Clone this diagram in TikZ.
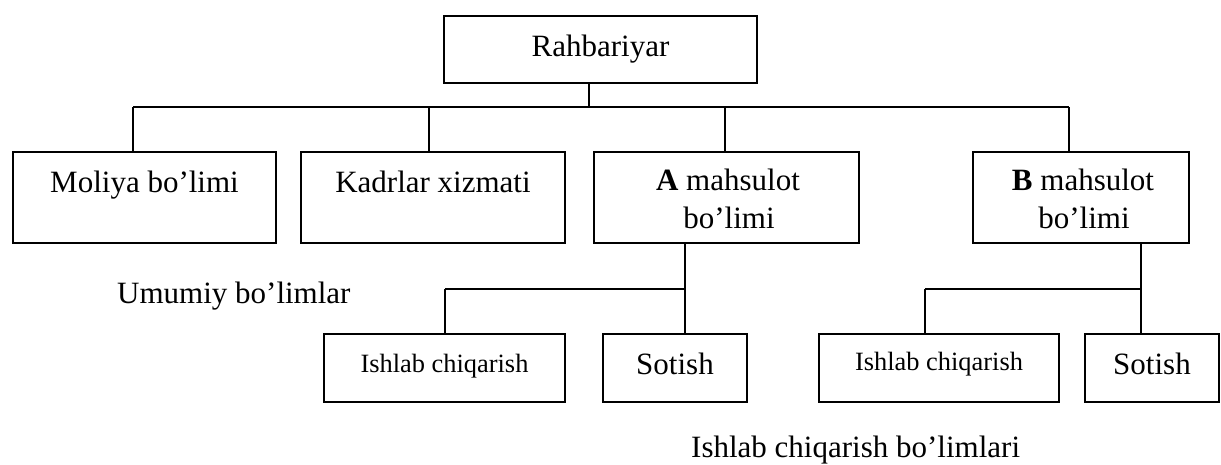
\documentclass[tikz,border=0pt]{standalone}
\usepackage{fontspec}
\setmainfont{Liberation Serif}
\begin{document}
\begin{tikzpicture}[x=1pt,y=-1pt,
  box/.style={draw=black,line width=2pt,inner sep=0pt,rectangle},
  txt/.style={anchor=base,inner sep=0pt,font=\fontsize{31}{37}\selectfont},
  smalltxt/.style={anchor=base,inner sep=0pt,font=\fontsize{26.4}{32}\selectfont},
  wire/.style={draw=black,line width=2pt}]
\useasboundingbox (0,0) rectangle (1221,464);

% top level
\node[box,minimum width=313,minimum height=67] (rah) at (600.5,49.5) {};
\node[txt] (raht) at (600.5,56) {Rahbariyar};

% departments
\node[box,minimum width=263,minimum height=91] (mol) at (144.5,197.5) {};
\node[txt] (molt) at (144.5,192) {Moliya bo’limi};
\node[box,minimum width=264,minimum height=91] (kad) at (433,197.5) {};
\node[txt] (kadt) at (433,192) {Kadrlar xizmati};
\node[box,minimum width=265,minimum height=91] (pa) at (726.5,197.5) {};
\node[txt] (pat1) at (728,190) {\textbf{A} mahsulot};
\node[txt] (pat2) at (729,228) {bo’limi};
\node[box,minimum width=216,minimum height=91] (pb) at (1081,197.5) {};
\node[txt] (pbt1) at (1083,190) {\textbf{B} mahsulot};
\node[txt] (pbt2) at (1084,228) {bo’limi};

% product sub-units
\node[box,minimum width=241,minimum height=68] (ia) at (444.5,368) {};
\node[smalltxt] (iat) at (444.5,372) {Ishlab chiqarish};
\node[box,minimum width=144,minimum height=68] (sa) at (675,368) {};
\node[txt] (sat) at (675,374) {Sotish};
\node[box,minimum width=240,minimum height=68] (ib) at (939,368) {};
\node[smalltxt] (ibt) at (939,370) {Ishlab chiqarish};
\node[box,minimum width=134,minimum height=68] (sb) at (1152,368) {};
\node[txt] (sbt) at (1152,374) {Sotish};

% group captions
\node[txt,anchor=base west] (gen) at (117,303) {Umumiy bo’limlar};
\node[txt,anchor=base west] (prod) at (691,457) {Ishlab chiqarish bo’limlari};

% main bus
\coordinate (top) at (589,107);
\coordinate (jm) at (133,107);
\coordinate (jk) at (429,107);
\coordinate (ja) at (725,107);
\coordinate (jb) at (1069,107);
\draw[wire] (rah.south -| top) -- (top);
\draw[wire] (jm) -- (jb);
\draw[wire] (jm) -- (jm |- mol.north);
\draw[wire] (jk) -- (jk |- kad.north);
\draw[wire] (ja) -- (ja |- pa.north);
\draw[wire] (jb) -- (jb |- pb.north);

% A branch
\coordinate (as) at (685,289);
\coordinate (ai) at (445,289);
\draw[wire] (pa.south -| as) -- (sa.north -| as);
\draw[wire] (ai) -- (as);
\draw[wire] (ai) -- (ai |- ia.north);

% B branch
\coordinate (bs) at (1141,289);
\coordinate (bi) at (925,289);
\draw[wire] (pb.south -| bs) -- (sb.north -| bs);
\draw[wire] (bi) -- (bs);
\draw[wire] (bi) -- (bi |- ib.north);
\end{tikzpicture}
\end{document}
